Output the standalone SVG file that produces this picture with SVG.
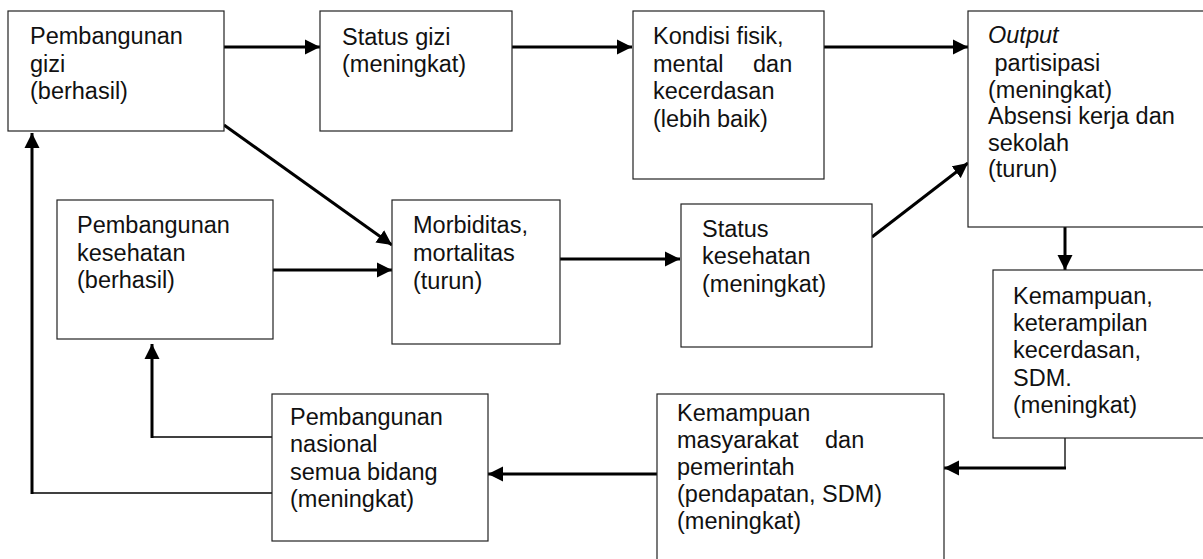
<svg xmlns="http://www.w3.org/2000/svg" width="1203" height="559" viewBox="0 0 1203 559">
<style>
.box{fill:#fff;stroke:#222;stroke-width:1.2}
.t{font-family:"Liberation Sans",Arial,sans-serif;font-size:23.5px;fill:#111;white-space:pre}
.thick{fill:none;stroke:#000;stroke-width:3}
.thin{fill:none;stroke:#000;stroke-width:1.3}
</style>
<defs>
<marker id="ah" markerUnits="userSpaceOnUse" markerWidth="16" markerHeight="16" refX="15" refY="8" orient="auto">
<path d="M0,0.5 L15,8 L0,15.5 z" fill="#000"/>
</marker>
</defs>
<rect width="1203" height="559" fill="#fff"/>
<g id="connectors">
<line class="thick" x1="224" y1="47" x2="320" y2="47" marker-end="url(#ah)"/>
<line class="thick" x1="512" y1="47" x2="632" y2="47" marker-end="url(#ah)"/>
<line class="thick" x1="824" y1="47" x2="968" y2="47" marker-end="url(#ah)"/>
<line class="thick" x1="224" y1="125" x2="392" y2="245" marker-end="url(#ah)"/>
<line class="thick" x1="272" y1="270" x2="392" y2="270" marker-end="url(#ah)"/>
<line class="thick" x1="560" y1="259" x2="680" y2="259" marker-end="url(#ah)"/>
<line class="thick" x1="872" y1="237" x2="968" y2="163" marker-end="url(#ah)"/>
<line class="thick" x1="1065" y1="227" x2="1065" y2="270" marker-end="url(#ah)"/>
<line class="thin" x1="1065" y1="438" x2="1065" y2="468"/>
<line class="thick" x1="1066" y1="468" x2="944" y2="468" marker-end="url(#ah)"/>
<line class="thick" x1="657" y1="474" x2="488" y2="474" marker-end="url(#ah)"/>
<polyline class="thin" points="272,437 152,437"/>
<line class="thick" x1="152" y1="438" x2="152" y2="344" marker-end="url(#ah)"/>
<polyline class="thin" points="272,493 32,493"/>
<line class="thick" x1="32" y1="494" x2="32" y2="133" marker-end="url(#ah)"/>
</g>
<g id="n1">
<rect class="box" x="8" y="11" width="216" height="120"/>
<text class="t" x="30" y="44">Pembangunan</text>
<text class="t" x="30" y="71.5">gizi</text>
<text class="t" x="30" y="99">(berhasil)</text>
</g>
<g id="n2">
<rect class="box" x="320" y="11" width="192" height="120"/>
<text class="t" x="342" y="45">Status gizi</text>
<text class="t" x="342" y="72">(meningkat)</text>
</g>
<g id="n3">
<rect class="box" x="633" y="11" width="191" height="168"/>
<text class="t" x="653" y="44">Kondisi fisik,</text>
<text class="t" x="653" y="71.5">mental<tspan x="753">dan</tspan></text>
<text class="t" x="653" y="99">kecerdasan</text>
<text class="t" x="653" y="126.5">(lebih baik)</text>
</g>
<g id="n4">
<rect class="box" x="968" y="11" width="260" height="216"/>
<text class="t" x="988" y="43" font-style="italic">Output</text>
<text class="t" x="988" y="71"> partisipasi</text>
<text class="t" x="988" y="97.5">(meningkat)</text>
<text class="t" x="988" y="124">Absensi kerja dan</text>
<text class="t" x="988" y="150.5">sekolah</text>
<text class="t" x="988" y="177">(turun)</text>
</g>
<g id="n5">
<rect class="box" x="57" y="200" width="216" height="139"/>
<text class="t" x="77" y="233">Pembangunan</text>
<text class="t" x="77" y="261">kesehatan</text>
<text class="t" x="77" y="288">(berhasil)</text>
</g>
<g id="n6">
<rect class="box" x="392" y="200" width="168" height="144"/>
<text class="t" x="413" y="233">Morbiditas,</text>
<text class="t" x="413" y="261">mortalitas</text>
<text class="t" x="413" y="289">(turun)</text>
</g>
<g id="n7">
<rect class="box" x="681" y="204" width="191" height="143"/>
<text class="t" x="702" y="237">Status</text>
<text class="t" x="702" y="264">kesehatan</text>
<text class="t" x="702" y="292">(meningkat)</text>
</g>
<g id="n8">
<rect class="box" x="993" y="270" width="240" height="168"/>
<text class="t" x="1013" y="304">Kemampuan,</text>
<text class="t" x="1013" y="331">keterampilan</text>
<text class="t" x="1013" y="358">kecerdasan,</text>
<text class="t" x="1013" y="386">SDM.</text>
<text class="t" x="1013" y="413">(meningkat)</text>
</g>
<g id="n9">
<rect class="box" x="657" y="394" width="287" height="200"/>
<text class="t" x="677" y="421">Kemampuan</text>
<text class="t" x="677" y="448">masyarakat<tspan x="825">dan</tspan></text>
<text class="t" x="677" y="475">pemerintah</text>
<text class="t" x="677" y="502">(pendapatan, SDM)</text>
<text class="t" x="677" y="529">(meningkat)</text>
</g>
<g id="n10">
<rect class="box" x="272" y="394" width="216" height="147"/>
<text class="t" x="290" y="425">Pembangunan</text>
<text class="t" x="290" y="452">nasional</text>
<text class="t" x="290" y="480">semua bidang</text>
<text class="t" x="290" y="507">(meningkat)</text>
</g>
</svg>
